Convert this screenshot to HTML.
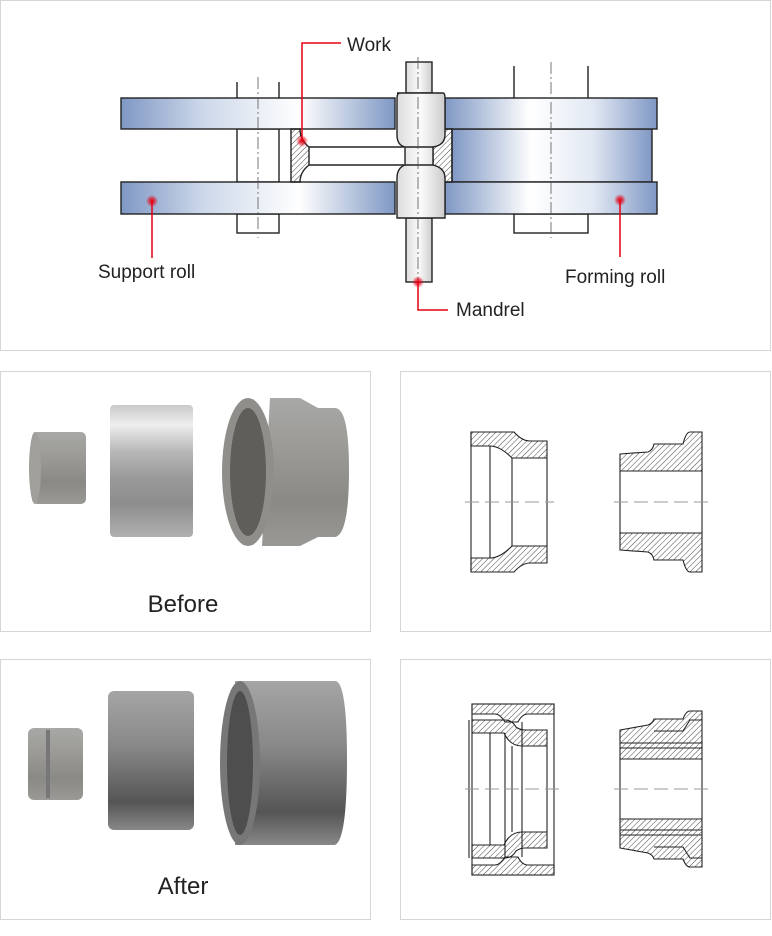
<!DOCTYPE html>
<html><head><meta charset="utf-8"><style>
html,body{margin:0;padding:0;background:#fff;}
svg{display:block;font-family:"Liberation Sans",sans-serif;}
</style></head><body>
<svg width="772" height="936" viewBox="0 0 772 936" xmlns="http://www.w3.org/2000/svg">
<defs>
<pattern id="h" width="4" height="4" patternUnits="userSpaceOnUse" patternTransform="rotate(45)">
<line x1="0" y1="0" x2="0" y2="4" stroke="#333" stroke-width="0.9"/></pattern>
<linearGradient id="gl" x1="0" x2="1" y1="0" y2="0">
<stop offset="0" stop-color="#7f98c4"/><stop offset="0.3" stop-color="#cdd8ea"/><stop offset="0.65" stop-color="#fff"/><stop offset="1" stop-color="#7f98c4"/></linearGradient>
<linearGradient id="gr" x1="0" x2="1" y1="0" y2="0">
<stop offset="0" stop-color="#7f98c4"/><stop offset="0.4" stop-color="#fff"/><stop offset="0.7" stop-color="#e2e8f3"/><stop offset="1" stop-color="#7f98c4"/></linearGradient>
<linearGradient id="gm" x1="0" x2="1"><stop offset="0" stop-color="#ddd"/><stop offset="0.5" stop-color="#fafafa"/><stop offset="1" stop-color="#ccc"/></linearGradient>
<linearGradient id="met" x1="0" x2="0" y1="0" y2="1"><stop offset="0" stop-color="#c9c9c9"/><stop offset="0.15" stop-color="#eee"/><stop offset="0.35" stop-color="#b8b8b8"/><stop offset="0.55" stop-color="#9a9a9a"/><stop offset="0.75" stop-color="#8d8d8d"/><stop offset="1" stop-color="#b0b0b0"/></linearGradient>
<linearGradient id="dull" x1="0" x2="0" y1="0" y2="1"><stop offset="0" stop-color="#a8a8a6"/><stop offset="0.3" stop-color="#9d9c98"/><stop offset="0.7" stop-color="#8a8985"/><stop offset="1" stop-color="#9a9995"/></linearGradient>
<linearGradient id="dark" x1="0" x2="0" y1="0" y2="1"><stop offset="0" stop-color="#a5a5a5"/><stop offset="0.4" stop-color="#888"/><stop offset="0.8" stop-color="#555"/><stop offset="1" stop-color="#888"/></linearGradient>
<radialGradient id="dot"><stop offset="0" stop-color="#e60012"/><stop offset="0.5" stop-color="#e60012" stop-opacity="0.6"/><stop offset="1" stop-color="#e60012" stop-opacity="0"/></radialGradient>
</defs>
<!-- panels -->
<g fill="none" stroke="#d6d6d6">
<rect x="0.5" y="0.5" width="770" height="350"/>
<rect x="0.5" y="371.5" width="370" height="260"/>
<rect x="400.5" y="371.5" width="370" height="260"/>
<rect x="0.5" y="659.5" width="370" height="260"/>
<rect x="400.5" y="659.5" width="370" height="260"/>
</g>
<!-- TOP DIAGRAM -->
<g stroke="#222" stroke-width="1.4" fill="none">
<line x1="237" y1="82" x2="237" y2="98"/><line x1="279" y1="82" x2="279" y2="98"/>
<line x1="514" y1="66" x2="514" y2="98"/><line x1="588" y1="66" x2="588" y2="98"/>
<rect x="237" y="129" width="42" height="53" fill="#fff"/>
<rect x="237" y="214" width="42" height="19" fill="#fff"/>
<rect x="514" y="214" width="74" height="19" fill="#fff"/>
<rect x="452" y="129" width="200" height="53" fill="url(#gr)"/>
<rect x="121" y="98" width="274" height="31" fill="url(#gl)"/>
<rect x="121" y="182" width="274" height="32" fill="url(#gl)"/>
<rect x="445" y="98" width="212" height="31" fill="url(#gr)"/>
<rect x="445" y="182" width="212" height="32" fill="url(#gr)"/>
<!-- work -->
<line x1="309" y1="147" x2="404" y2="147"/><line x1="309" y1="165" x2="404" y2="165"/>
<path d="M291 129 H300 Q300 140 309 147 V165 Q300 172 300 182 H291 Z" fill="url(#h)"/>
<path d="M452 129 V182 H443 Q443 172 433 165 V147 Q443 140 443 129 Z" fill="url(#h)"/>
<!-- mandrel -->
<rect x="406" y="62" width="26" height="31" fill="url(#gm)"/>
<rect x="406" y="218" width="26" height="64" fill="url(#gm)"/>
<path d="M397 93 H443 Q445 93 445 98 V135 Q445 145 433 147 V165 Q445 168 445 178 V218 H397 V178 Q397 168 405 165 V147 Q397 145 397 135 V98 Q397 93 400 93 Z" fill="url(#gm)"/>
<line x1="405" y1="147" x2="433" y2="147"/><line x1="405" y1="165" x2="433" y2="165"/>
</g>
<g stroke="#555" stroke-width="0.8" stroke-dasharray="12 3 2 3" fill="none">
<line x1="258" y1="77" x2="258" y2="238"/>
<line x1="551" y1="62" x2="551" y2="238"/>
<line x1="418" y1="57" x2="418" y2="280"/>
</g>
<!-- callouts -->
<g stroke="#e60012" stroke-width="1.5" fill="none">
<polyline points="302,141 302,43 341,43"/>
<line x1="152" y1="201" x2="152" y2="258"/>
<line x1="620" y1="200" x2="620" y2="257"/>
<polyline points="418,282 418,310 448,310"/>
</g>
<circle cx="302" cy="141" r="6" fill="url(#dot)"/>
<circle cx="152" cy="201" r="6" fill="url(#dot)"/>
<circle cx="620" cy="200" r="6" fill="url(#dot)"/>
<circle cx="418" cy="282" r="6" fill="url(#dot)"/>
<g font-size="19" fill="#222">
<text x="347" y="51">Work</text>
<text x="98" y="278">Support roll</text>
<text x="565" y="283">Forming roll</text>
<text x="456" y="316">Mandrel</text>
</g>
<!-- BEFORE photos -->
<rect x="32" y="432" width="54" height="72" rx="5" fill="url(#dull)"/>
<ellipse cx="35" cy="468" rx="6" ry="36" fill="#a09f9b"/>
<rect x="110" y="405" width="83" height="132" rx="4" fill="url(#met)"/>
<path d="M270 398 H300 L318 408 H335 Q349 408 349 470 Q349 535 335 537 H318 L300 546 H262 Z" fill="url(#dull)"/>
<ellipse cx="248" cy="472" rx="26" ry="74" fill="#8f8e8a"/>
<ellipse cx="248" cy="472" rx="18" ry="64" fill="#5f5e5a"/>
<text x="183" y="612" font-size="24" fill="#222" text-anchor="middle">Before</text>
<!-- AFTER photos -->
<rect x="28" y="728" width="55" height="72" rx="6" fill="url(#dull)"/>
<rect x="46" y="730" width="4" height="68" fill="#777"/>
<rect x="108" y="691" width="86" height="139" rx="6" fill="url(#dark)"/>
<path d="M235 681 H335 Q347 681 347 760 Q347 840 335 845 H235 Z" fill="url(#dark)"/>
<ellipse cx="240" cy="763" rx="20" ry="82" fill="#777"/>
<ellipse cx="240" cy="763" rx="13" ry="72" fill="#4e4e4e"/>
<text x="183" y="894" font-size="24" fill="#222" text-anchor="middle">After</text>
<!-- BEFORE drawings -->
<g stroke="#222" stroke-width="1.1" fill="none">
<path d="M471 432 H514 Q522 441 530 441 H547 V458 H512 Q500 446 490 446 H471 Z" fill="url(#h)"/>
<path d="M471 572 H514 Q522 563 530 563 H547 V546 H512 Q500 558 490 558 H471 Z" fill="url(#h)"/>
<line x1="471" y1="432" x2="471" y2="572"/>
<line x1="490" y1="446" x2="490" y2="558"/>
<line x1="512" y1="458" x2="512" y2="546"/>
<line x1="547" y1="458" x2="547" y2="546"/>
<path d="M620 454 L648 452 Q653 450 654 444 H683 Q686 432 690 432 H702 V471 H620 Z" fill="url(#h)"/>
<path d="M620 550 L648 552 Q653 554 654 560 H683 Q686 572 690 572 H702 V533 H620 Z" fill="url(#h)"/>
<line x1="702" y1="471" x2="702" y2="533"/>
<line x1="620" y1="471" x2="620" y2="533"/>
</g>
<g stroke="#999" stroke-width="1" stroke-dasharray="14 6">
<line x1="465" y1="502" x2="554" y2="502"/><line x1="614" y1="502" x2="708" y2="502"/>
</g>
<!-- AFTER drawings -->
<g stroke="#222" stroke-width="1.1" fill="none">
<rect x="472" y="704" width="82" height="171"/>
<path d="M472 704 H554 V714 H528 Q522 714 518 722 H505 Q500 714 495 714 H472 Z" fill="url(#h)"/>
<path d="M472 875 H554 V865 H528 Q522 865 518 857 H505 Q500 865 495 865 H472 Z" fill="url(#h)"/>
<path d="M472 720 H505 Q512 720 516 727 Q520 730 525 730 H547 V746 H522 Q510 746 504 733 H472 Z" fill="url(#h)"/>
<path d="M472 858 H505 Q512 858 516 851 Q520 848 525 848 H547 V832 H522 Q510 832 504 845 H472 Z" fill="url(#h)"/>
<line x1="490" y1="733" x2="490" y2="845"/>
<line x1="505" y1="733" x2="505" y2="857"/>
<line x1="512" y1="746" x2="512" y2="832"/>
<line x1="522" y1="722" x2="522" y2="857"/>
<line x1="547" y1="746" x2="547" y2="832"/>
<line x1="469" y1="720" x2="469" y2="858"/>
<path d="M620 730 L648 725 Q653 723 654 719 H683 Q686 711 690 711 H702 V759 H620 Z" fill="url(#h)"/>
<path d="M620 848 L648 853 Q653 855 654 859 H683 Q686 867 690 867 H702 V819 H620 Z" fill="url(#h)"/>
<line x1="620" y1="743" x2="702" y2="743"/><line x1="620" y1="748" x2="702" y2="748"/>
<line x1="620" y1="835" x2="702" y2="835"/><line x1="620" y1="830" x2="702" y2="830"/>
<path d="M654 731 H683 Q688 723 690 720 H702"/>
<path d="M654 847 H683 Q688 855 690 858 H702"/>
<line x1="702" y1="759" x2="702" y2="819"/>
<line x1="620" y1="759" x2="620" y2="819"/>
</g>
<g stroke="#999" stroke-width="1" stroke-dasharray="14 6">
<line x1="465" y1="789" x2="560" y2="789"/><line x1="614" y1="789" x2="708" y2="789"/>
</g>
</svg>
</body></html>
